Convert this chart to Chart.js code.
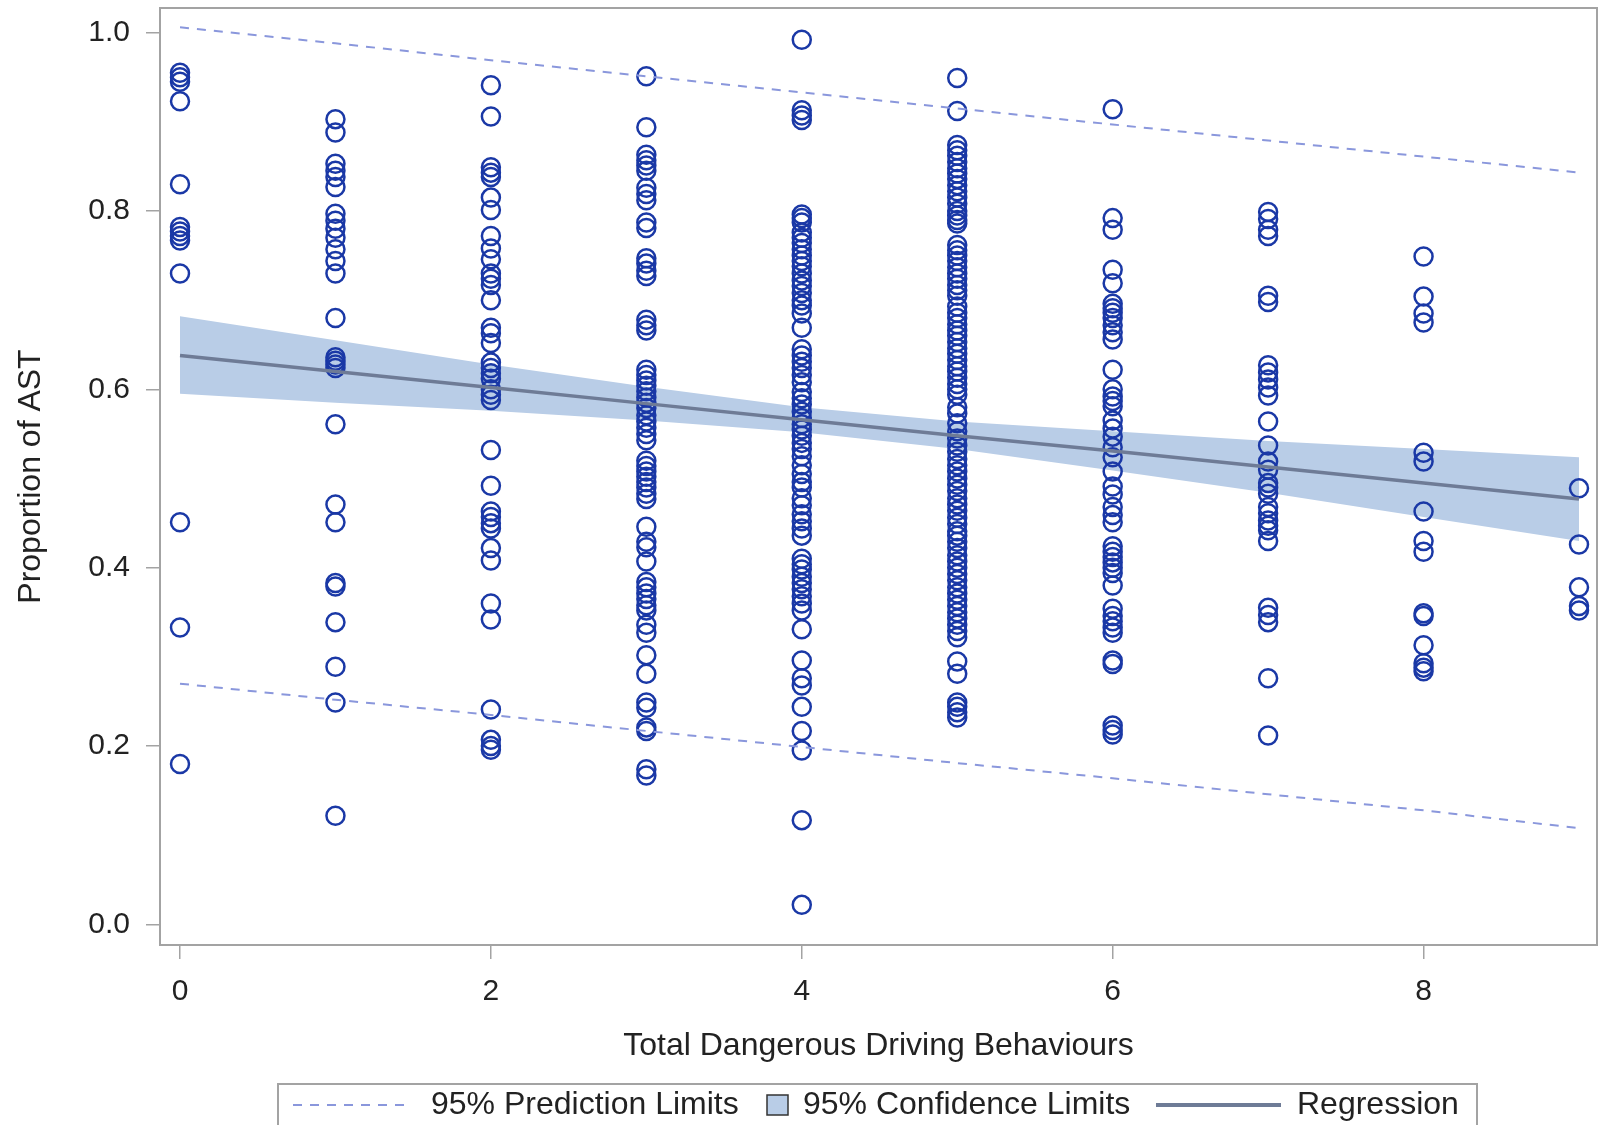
<!DOCTYPE html>
<html>
<head>
<meta charset="utf-8">
<script src="https://cdn.jsdelivr.net/npm/chart.js@4/dist/chart.umd.min.js"></script>
<style>
  html, body { margin: 0; padding: 0; background: #ffffff; }
  #c { display: block; }
</style>
</head>
<body>
<canvas id="c" width="1600" height="1125"></canvas>
<script>
// ---------- DATA ----------
const xCategories = [0, 1, 2, 3, 4, 5, 6, 7, 8, 9];
const xTicks = [0, 2, 4, 6, 8];
const yTicks = [0.0, 0.2, 0.4, 0.6, 0.8, 1.0];

const col0 = [0.955, 0.950, 0.945, 0.923, 0.830, 0.782, 0.777, 0.772, 0.767, 0.730, 0.451, 0.333, 0.180];
const col1 = [0.903, 0.888, 0.853, 0.845, 0.838, 0.827, 0.797, 0.789, 0.780, 0.770, 0.757, 0.744, 0.730, 0.680,
              0.636, 0.632, 0.628, 0.624, 0.561, 0.471, 0.451, 0.383, 0.379, 0.339, 0.289, 0.249, 0.122];
const col2 = [0.941, 0.906, 0.849, 0.843, 0.838, 0.815, 0.801, 0.772, 0.758, 0.746, 0.730, 0.724, 0.717, 0.700,
              0.669, 0.663, 0.652, 0.630, 0.624, 0.618, 0.612, 0.600, 0.594, 0.588, 0.532, 0.492, 0.463, 0.457,
              0.450, 0.444, 0.422, 0.408, 0.360, 0.342, 0.241, 0.207, 0.200, 0.196];
const col3 = [0.951, 0.894, 0.863, 0.857, 0.851, 0.845, 0.826, 0.819, 0.812, 0.787, 0.781, 0.747, 0.741, 0.733,
              0.727, 0.678, 0.672, 0.666, 0.622, 0.616, 0.610, 0.604, 0.598, 0.591, 0.585, 0.579, 0.571, 0.564,
              0.557, 0.550, 0.543, 0.520, 0.514, 0.508, 0.502, 0.496, 0.490, 0.483, 0.477, 0.446, 0.429, 0.423,
              0.407, 0.384, 0.378, 0.371, 0.365, 0.358, 0.352, 0.336, 0.327, 0.302, 0.281, 0.249, 0.243, 0.221,
              0.217, 0.174, 0.167];
const col4 = [0.992, 0.913, 0.907, 0.902, 0.796, 0.792, 0.787, 0.776, 0.770, 0.764, 0.757, 0.750, 0.744, 0.738,
              0.730, 0.722, 0.716, 0.708, 0.700, 0.694, 0.685, 0.669, 0.645, 0.638, 0.631, 0.624, 0.616, 0.608,
              0.597, 0.590, 0.583, 0.575, 0.568, 0.561, 0.555, 0.548, 0.540, 0.533, 0.525, 0.515, 0.505, 0.496,
              0.490, 0.478, 0.470, 0.460, 0.452, 0.444, 0.436, 0.410, 0.404, 0.398, 0.390, 0.383, 0.376, 0.368,
              0.360, 0.352, 0.331, 0.296, 0.276, 0.268, 0.244, 0.217, 0.195, 0.117, 0.022];
const col5 = [0.949, 0.912, 0.874, 0.868, 0.862, 0.855, 0.848, 0.842, 0.836, 0.829, 0.822, 0.815, 0.808, 0.800,
              0.795, 0.790, 0.786, 0.762, 0.756, 0.750, 0.744, 0.737, 0.730, 0.724, 0.717, 0.711, 0.705, 0.693,
              0.686, 0.680, 0.673, 0.666, 0.660, 0.653, 0.646, 0.640, 0.633, 0.626, 0.620, 0.613, 0.606, 0.600,
              0.594, 0.580, 0.573, 0.562, 0.553, 0.545, 0.537, 0.530, 0.522, 0.515, 0.508, 0.500, 0.493, 0.486,
              0.478, 0.471, 0.464, 0.456, 0.449, 0.441, 0.436, 0.429, 0.422, 0.414, 0.407, 0.400, 0.393, 0.386,
              0.378, 0.371, 0.364, 0.357, 0.350, 0.343, 0.336, 0.329, 0.322, 0.295, 0.281, 0.249, 0.244, 0.238,
              0.232];
const col6 = [0.914, 0.792, 0.779, 0.734, 0.719, 0.696, 0.691, 0.686, 0.680, 0.672, 0.664, 0.656, 0.622, 0.600,
              0.592, 0.587, 0.581, 0.565, 0.556, 0.547, 0.535, 0.524, 0.508, 0.491, 0.482, 0.468, 0.459, 0.451,
              0.424, 0.418, 0.412, 0.406, 0.400, 0.394, 0.380, 0.354, 0.346, 0.340, 0.333, 0.327, 0.296, 0.292,
              0.223, 0.218, 0.213];
const col7 = [0.799, 0.791, 0.779, 0.772, 0.705, 0.698, 0.627, 0.619, 0.611, 0.602, 0.593, 0.564, 0.537, 0.519,
              0.510, 0.495, 0.490, 0.483, 0.468, 0.461, 0.453, 0.447, 0.442, 0.430, 0.355, 0.347, 0.339, 0.276,
              0.212];
const col8 = [0.749, 0.704, 0.685, 0.675, 0.529, 0.519, 0.463, 0.430, 0.418, 0.349, 0.346, 0.313, 0.293, 0.288,
              0.284];
const col9 = [0.489, 0.426, 0.378, 0.357, 0.352];
const columns = [col0, col1, col2, col3, col4, col5, col6, col7, col8, col9];

const regression   = [0.638, 0.620, 0.602, 0.584, 0.566, 0.548, 0.531, 0.513, 0.495, 0.477];
const confUpper    = [0.682, 0.655, 0.628, 0.603, 0.580, 0.564, 0.553, 0.542, 0.533, 0.524];
const confLower    = [0.595, 0.585, 0.576, 0.565, 0.552, 0.533, 0.509, 0.484, 0.457, 0.430];
const predUpper    = [1.006, 0.988, 0.969, 0.951, 0.933, 0.915, 0.897, 0.879, 0.861, 0.843];
const predLower    = [0.270, 0.252, 0.235, 0.217, 0.199, 0.181, 0.164, 0.146, 0.128, 0.108];

const legendLabels = ['95% Prediction Limits', '95% Confidence Limits', 'Regression'];
const xTitle = 'Total Dangerous Driving Behaviours';
const yTitle = 'Proportion of AST';

// ---------- STYLE ----------
const FONT = '"Liberation Sans", Arial, sans-serif';
const markerColor = '#1a38a6';
const bandColor = '#b9cde7';
const regColor = '#6e7b96';
const predColor = '#8a97dc';
const frameColor = '#a3a3a3';
const textColor = '#222222';

const toXY = (arr) => arr.map((v, i) => ({ x: xCategories[i], y: v }));
const scatterData = [];
columns.forEach((col, i) => col.forEach(v => scatterData.push({ x: xCategories[i], y: v })));

const zeroPad = (axis) => { axis.paddingTop = 0; axis.paddingBottom = 0; axis.paddingLeft = 0; axis.paddingRight = 0; };

const framePlugin = {
  id: 'frame',
  afterDatasetsDraw(chart) {
    const a = chart.chartArea, ctx = chart.ctx;
    ctx.save();
    ctx.strokeStyle = frameColor;
    ctx.lineWidth = 2;
    ctx.strokeRect(a.left, a.top, a.right - a.left, a.bottom - a.top);
    ctx.restore();
  }
};

const legendPlugin = {
  id: 'boxLegend',
  afterDraw(chart) {
    const ctx = chart.ctx;
    ctx.save();
    ctx.strokeStyle = frameColor;
    ctx.lineWidth = 2;
    ctx.strokeRect(278, 1084, 1199, 60);
    const cy = 1105;
    ctx.strokeStyle = predColor;
    ctx.lineWidth = 2;
    ctx.setLineDash([9, 8]);
    ctx.beginPath(); ctx.moveTo(293, cy); ctx.lineTo(410, cy); ctx.stroke();
    ctx.setLineDash([]);
    ctx.fillStyle = bandColor;
    ctx.fillRect(767, 1095, 21, 20);
    ctx.strokeStyle = '#333';
    ctx.lineWidth = 1.5;
    ctx.strokeRect(767, 1095, 21, 20);
    ctx.strokeStyle = regColor;
    ctx.lineWidth = 4;
    ctx.beginPath(); ctx.moveTo(1156, cy); ctx.lineTo(1281, cy); ctx.stroke();
    ctx.fillStyle = textColor;
    ctx.font = '32px ' + FONT;
    ctx.textBaseline = 'middle';
    ctx.textAlign = 'left';
    ctx.fillText(legendLabels[0], 431, cy);
    ctx.fillText(legendLabels[1], 803, cy);
    ctx.fillText(legendLabels[2], 1297, cy);
    ctx.restore();
  }
};

new Chart(document.getElementById('c'), {
  type: 'scatter',
  data: {
    datasets: [
      { type: 'line', label: 'confUpper', data: toXY(confUpper), borderWidth: 0, pointRadius: 0,
        backgroundColor: bandColor, fill: 1, order: 10 },
      { type: 'line', label: 'confLower', data: toXY(confLower), borderWidth: 0, pointRadius: 0,
        fill: false, order: 11 },
      { type: 'scatter', label: 'obs', data: scatterData, pointStyle: 'circle', pointRadius: 9,
        pointBorderWidth: 2.5, borderColor: markerColor, backgroundColor: 'rgba(0,0,0,0)', order: 5 },
      { type: 'line', label: 'Regression', data: toXY(regression), borderColor: regColor, borderWidth: 3.5,
        pointRadius: 0, fill: false, order: 2 },
      { type: 'line', label: 'predUpper', data: toXY(predUpper), borderColor: predColor, borderWidth: 2,
        borderDash: [9, 8], pointRadius: 0, fill: false, order: 1 },
      { type: 'line', label: 'predLower', data: toXY(predLower), borderColor: predColor, borderWidth: 2,
        borderDash: [9, 8], pointRadius: 0, fill: false, order: 1 }
    ]
  },
  options: {
    responsive: false,
    animation: false,
    devicePixelRatio: 1,
    layout: { autoPadding: false, padding: { left: 0, right: 3, top: 8, bottom: 50 } },
    plugins: { legend: { display: false }, tooltip: { enabled: false } },
    scales: {
      x: {
        type: 'linear', min: -0.1287, max: 9.1158,
        afterBuildTicks: (axis) => { axis.ticks = xTicks.map(v => ({ value: v })); },
        afterFit: (axis) => { axis.height = 130; zeroPad(axis); },
        border: { display: false },
        grid: { drawOnChartArea: false, drawTicks: true, tickLength: 14, color: frameColor, lineWidth: 1.5 },
        ticks: { padding: 15, color: textColor, font: { family: FONT, size: 30 }, maxRotation: 0,
                 callback: (v) => String(v) },
        title: { display: true, text: xTitle, color: textColor, font: { family: FONT, size: 32 },
                 padding: { top: 4, bottom: 10 } }
      },
      y: {
        type: 'linear', min: -0.023, max: 1.0276,
        afterBuildTicks: (axis) => { axis.ticks = yTicks.map(v => ({ value: v })); },
        afterFit: (axis) => { axis.width = 160; zeroPad(axis); },
        border: { display: false },
        grid: { drawOnChartArea: false, drawTicks: true, tickLength: 14, color: frameColor, lineWidth: 1.5 },
        ticks: { padding: 16, color: textColor, font: { family: FONT, size: 30 },
                 callback: (v) => Number(v).toFixed(1) },
        title: { display: true, text: yTitle, color: textColor, font: { family: FONT, size: 32 },
                 padding: { top: 12, bottom: 0 } }
      }
    }
  },
  plugins: [framePlugin, legendPlugin]
});
</script>
</body>
</html>
